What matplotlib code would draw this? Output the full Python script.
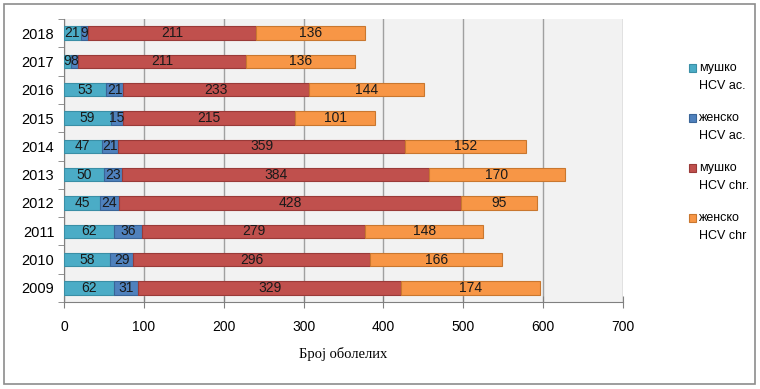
import matplotlib
matplotlib.use("Agg")
import matplotlib.pyplot as plt
from matplotlib.patches import Rectangle
import numpy as np

years = ["2009", "2010", "2011", "2012", "2013", "2014", "2015", "2016", "2017", "2018"]
male_ac = [62, 58, 62, 45, 50, 47, 59, 53, 9, 21]
female_ac = [31, 29, 36, 24, 23, 21, 15, 21, 8, 9]
male_chr = [329, 296, 279, 428, 384, 359, 215, 233, 211, 211]
female_chr = [174, 166, 148, 95, 170, 152, 101, 144, 136, 136]
series_labels = ["мушко\nHCV ac.", "женско\nHCV ac.", "мушко\nHCV chr.", "женско\nHCV chr"]
xticks = [0, 100, 200, 300, 400, 500, 600, 700]
xlabel = "Број оболелих"

colors = ["#4bacc6", "#4f81bd", "#c0504d", "#f79646"]
edges = ["#3a8fa6", "#3a6598", "#9a3a38", "#c9772f"]

sans = ["Liberation Sans", "DejaVu Sans"]
serif = ["Liberation Serif", "DejaVu Serif"]

W, H = 760, 389
fig = plt.figure(figsize=(W / 100, H / 100), dpi=100)
ax = fig.add_axes([64 / W, 1 - 302 / H, (623 - 64) / W, (302 - 19) / H])

ax.set_facecolor("#f2f2f2")
y = np.arange(len(years))
data = [male_ac, female_ac, male_chr, female_chr]
left = np.zeros(len(years))
for vals, c, e, lab in zip(data, colors, edges, series_labels):
    vals = np.array(vals, dtype=float)
    ax.barh(y, vals, left=left, height=0.47, color=c, edgecolor=e, linewidth=0.8,
            label=lab, zorder=3)
    for yi, l, v in zip(y, left, vals):
        ax.text(l + v / 2, yi, f"{int(v)}", ha="center", va="center", fontsize=10,
                family=sans, color="#1a1a1a", zorder=4)
    left = left + vals

ax.set_xlim(0, 700)
ax.set_ylim(-0.5, len(years) - 0.5)
ax.set_xticks(xticks)
ax.set_xticklabels([str(t) for t in xticks], family=sans, fontsize=10)
ax.set_yticks(y)
ax.set_yticklabels(years, family=sans, fontsize=10.5)
ax.tick_params(axis="y", which="major", length=0, pad=7)
ax.set_yticks(np.arange(-0.5, len(years), 1), minor=True)
ax.tick_params(axis="y", which="minor", length=4, color="#808080", direction="out")
ax.tick_params(axis="x", which="major", length=8, direction="inout", color="#808080", pad=9)
ax.grid(axis="x", color="#a0a0a0", linewidth=1, zorder=0)
ax.spines["top"].set_visible(False)
ax.spines["right"].set_visible(False)
ax.spines["left"].set_color("#808080")
ax.spines["bottom"].set_color("#808080")
ax.set_xlabel(xlabel, family=serif, fontsize=10.5, labelpad=9)

# legend, drawn as in the reference: square beside the first line of each label
for i, (lab, c, e) in enumerate(zip(series_labels, colors, edges)):
    yc = 68 + 50 * i
    fig.patches.append(Rectangle((689 / W, 1 - (yc + 4) / H), 7 / W, 8 / H,
                                 transform=fig.transFigure, facecolor=c, edgecolor=e,
                                 linewidth=0.8))
    l1, l2 = lab.split("\n")
    fig.text(699 / W, 1 - yc / H, l1, family=sans, fontsize=9, va="center", ha="left")
    fig.text(699 / W, 1 - (yc + 18) / H, l2, family=sans, fontsize=9, va="center", ha="left")

fig.patches.append(Rectangle((4 / W, 1 - 384 / H), (755 - 4) / W, (384 - 4) / H,
                             transform=fig.transFigure, fill=False, edgecolor="#8c8c8c",
                             linewidth=1.2))

fig.savefig("out.png", dpi=100)
